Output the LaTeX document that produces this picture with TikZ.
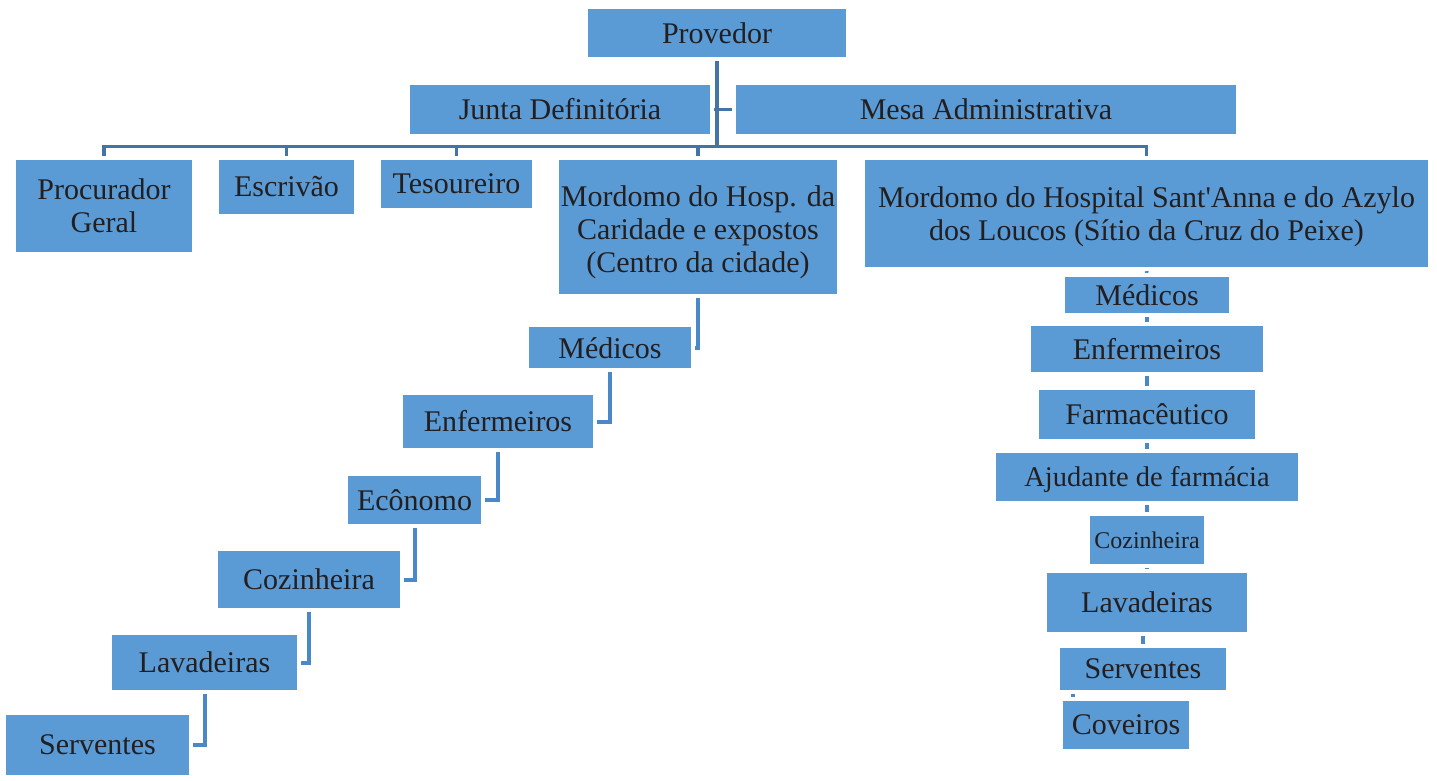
\documentclass[tikz,border=0pt]{standalone}
\usepackage{fontspec}
\setmainfont{Liberation Serif}
\definecolor{boxblue}{HTML}{5B9BD5}
\definecolor{topline}{HTML}{4274A6}
\definecolor{stairline}{HTML}{4A88C7}
\definecolor{txtcol}{HTML}{231F20}
\newcommand{\lowertext}[2]{\raisebox{-#1}[\height][\depth]{\begin{tabular}{@{}c@{}}#2\end{tabular}}}
\newcommand{\lowerone}[2]{\raisebox{-#1}[\height][\depth]{#2}}
\tikzset{
  box/.style={fill=boxblue, draw=none, inner sep=0pt, align=center, text=txtcol,
    font=\fontsize{30}{33}\selectfont},
  tline/.style={draw=topline, line width=3.5pt},
  sline/.style={draw=stairline, line width=4pt, line join=miter, shorten <=4pt, shorten >=4pt},
  rline/.style={draw=stairline, line width=3.6pt, shorten <=4pt, shorten >=4pt},
}
\begin{document}
\begin{tikzpicture}[x=1pt,y=-1pt]
\useasboundingbox (0,0) rectangle (1437,781);
% top level
\node[box, minimum width=258pt, minimum height=48pt] (prov) at (717,33) {Provedor};
\node[box, minimum width=300pt, minimum height=49pt] (junta) at (560,109.5) {Junta Definitória};
\node[box, minimum width=500pt, minimum height=49pt] (mesa) at (986,109.5) {Mesa Administrativa};
% second row
\node[box, minimum width=176pt, minimum height=92pt] (proc) at (104,206) {\lowertext{3pt}{Procurador\\Geral}};
\node[box, minimum width=135pt, minimum height=54pt] (escr) at (286.5,187) {Escrivão};
\node[box, minimum width=151pt, minimum height=48pt] (tes) at (456.5,184) {Tesoureiro};
\node[box, minimum width=278pt, minimum height=134pt] (mord1) at (698,227) {\lowertext{6pt}{Mordomo do Hosp. da\\Caridade e expostos\\(Centro da cidade)}};
\node[box, minimum width=563pt, minimum height=107pt] (mord2) at (1146.5,213.5) {\lowertext{4pt}{Mordomo do Hospital Sant\textquotesingle Anna e do Azylo\\dos Loucos (Sítio da Cruz do Peixe)}};
% left staircase
\node[box, minimum width=162pt, minimum height=41pt] (lmed) at (610,347.5) {\lowerone{1pt}{Médicos}};
\node[box, minimum width=190pt, minimum height=53pt] (lenf) at (498,421.5) {Enfermeiros};
\node[box, minimum width=133pt, minimum height=48pt] (leco) at (414.5,500) {Ecônomo};
\node[box, minimum width=182pt, minimum height=57pt] (lcoz) at (309,579.5) {Cozinheira};
\node[box, minimum width=185pt, minimum height=55pt] (llav) at (204.5,662.5) {Lavadeiras};
\node[box, minimum width=183pt, minimum height=60pt] (lser) at (97.5,745) {Serventes};
% right column
\node[box, minimum width=164pt, minimum height=36pt] (rmed) at (1147,295) {Médicos};
\node[box, minimum width=232pt, minimum height=46pt] (renf) at (1147,349) {Enfermeiros};
\node[box, minimum width=216pt, minimum height=49pt] (rfar) at (1147,414.5) {Farmacêutico};
\node[box, minimum width=302pt, minimum height=48pt, font=\fontsize{28.5}{33}\selectfont] (raju) at (1147,477) {\lowerone{2pt}{Ajudante de farmácia}};
\node[box, minimum width=114pt, minimum height=48pt, font=\fontsize{24}{28}\selectfont] (rcoz) at (1147,540) {Cozinheira};
\node[box, minimum width=200pt, minimum height=59pt] (rlav) at (1147,602.5) {Lavadeiras};
\node[box, minimum width=166pt, minimum height=42pt] (rser) at (1143,669) {Serventes};
\node[box, minimum width=126pt, minimum height=48pt] (rcov) at (1126,725) {Coveiros};
% top connectors
\coordinate (bar) at (717,146.5);
\draw[tline, shorten <=4pt] (prov.south) -- (bar);
\draw[tline, shorten >=4pt] (prov.south |- junta.east) -- (junta.east);
\draw[tline, shorten >=4pt] (prov.south |- mesa.west) -- (mesa.west);
\draw[tline, shorten >=4pt] (bar) -| (proc.north);
\draw[tline, shorten >=4pt] (bar) -| (escr.north);
\draw[tline, shorten >=4pt] (bar) -| (tes.north);
\draw[tline, shorten >=4pt] (bar) -| (mord1.north);
\draw[tline, shorten >=4pt] (bar) -| (mord2.north);
% staircase connectors
\draw[sline] (mord1.south) |- (lmed.east);
\draw[sline] (lmed.south) |- (lenf.east);
\draw[sline] (lenf.south) |- (leco.east);
\draw[sline] (leco.south) |- (lcoz.east);
\draw[sline] (lcoz.south) |- (llav.east);
\draw[sline] (llav.south) |- (lser.east);
% right column connectors
\draw[rline] (mord2.south) -- (rmed.north);
\draw[rline] (rmed.south) -- (renf.north);
\draw[rline] (renf.south) -- (rfar.north);
\draw[rline] (rfar.south) -- (raju.north);
\draw[rline] (raju.south) -- (rcoz.north);
\draw[rline] (rcoz.south) -- (rlav.north);
\draw[rline] (rser.north |- rlav.south) -- (rser.north);
\draw[rline] ([xshift=13pt]rser.south west) -- ([xshift=13pt]rser.south west |- rcov.north);
\end{tikzpicture}
\end{document}
